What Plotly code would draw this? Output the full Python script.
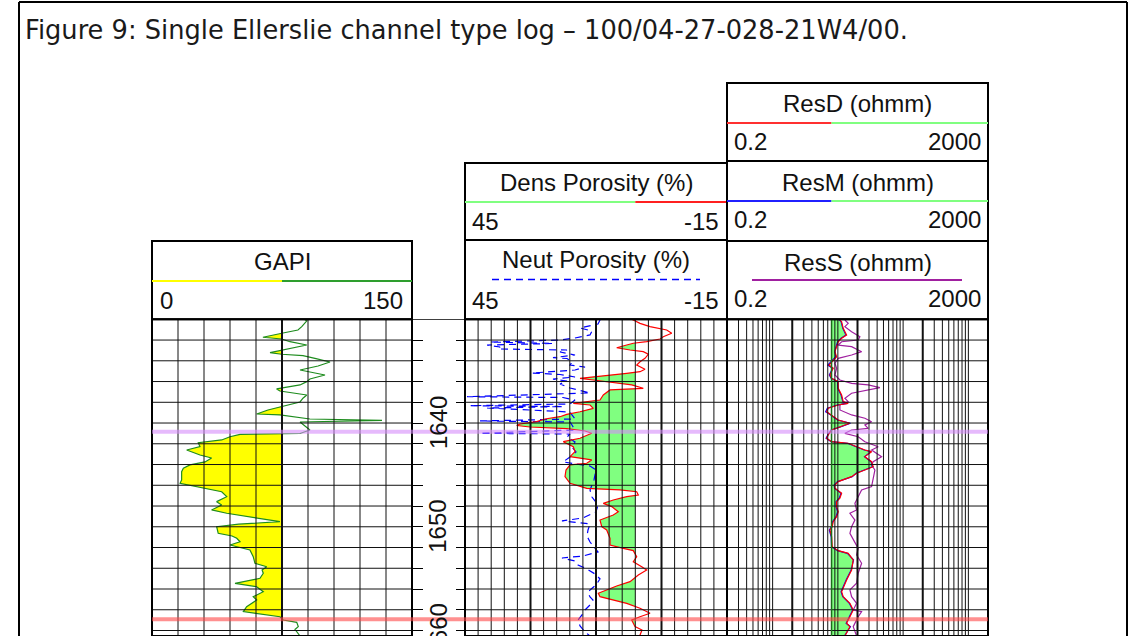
import math
import plotly.graph_objects as go

# ---------------------------------------------------------------- data
title_text = "Figure 9: Single Ellerslie channel type log \u2013 100/04-27-028-21W4/00."

depth_top, depth_bottom = 1630.0, 1660.53
depth_labels = [1640, 1650, 1660]
depth_grid = list(range(1632, 1661, 2))

# gamma ray (API)
gr_depth = [1630.0, 1630.16, 1630.71, 1631.03, 1631.32, 1631.73, 1631.90, 1632.16, 1632.48, 1632.96,
            1633.22, 1633.37, 1633.51, 1633.76, 1634.12, 1634.50, 1634.89, 1635.37, 1635.75, 1636.01,
            1636.33, 1636.71, 1636.91, 1637.30, 1637.61, 1637.97, 1638.42, 1638.74, 1639.13, 1639.22,
            1639.61, 1639.75, 1639.90, 1640.28, 1640.67, 1641.01, 1641.10, 1641.32, 1641.63, 1641.89,
            1642.28, 1642.60, 1643.08, 1643.37, 1643.75, 1644.04, 1644.36, 1644.69, 1645.49, 1645.81,
            1646.29, 1646.62, 1647.10, 1647.58, 1647.90, 1648.38, 1648.70, 1649.18, 1649.51, 1649.75,
            1649.99, 1650.63, 1650.89, 1651.11, 1651.44, 1651.76, 1652.24, 1652.88, 1653.52, 1653.85,
            1654.17, 1654.48, 1654.97, 1655.45, 1655.78, 1656.26, 1656.74, 1657.06, 1657.70, 1658.18,
            1658.41, 1658.67, 1658.99, 1659.21, 1659.63, 1659.90, 1660.53]
gr_api = [88.0, 89.3, 86.4, 84.2, 75.6, 64.0, 74.8, 79.6, 89.3, 75.6,
          68.1, 74.8, 87.1, 94.0, 102.7, 95.8, 85.4, 99.8, 91.1, 89.3,
          85.4, 71.9, 73.8, 89.3, 87.1, 85.4, 73.8, 66.9, 60.4, 73.8,
          91.1, 132.7, 85.4, 88.3, 91.1, 85.4, 50.8, 45.0, 40.2, 26.7,
          27.7, 20.0, 27.7, 34.4, 30.6, 21.9, 18.1, 17.1, 17.1, 16.2,
          29.6, 40.2, 43.1, 37.3, 40.2, 34.4, 43.1, 60.4, 73.8, 50.0,
          37.3, 38.2, 46.2, 48.9, 50.8, 45.0, 56.5, 58.4, 59.4, 66.2,
          63.5, 64.2, 62.3, 47.9, 60.4, 64.2, 58.4, 60.4, 54.6, 52.7,
          62.3, 73.8, 75.7, 83.5, 84.4, 82.5, 85.4]

# density porosity (%)
dphi_depth = [1630.0, 1630.07, 1630.39, 1630.71, 1631.03, 1631.35, 1631.68, 1631.90, 1632.16, 1632.31,
              1632.48, 1632.74, 1632.96, 1633.12, 1633.37, 1633.76, 1634.09, 1634.41, 1634.82, 1635.05,
              1635.21, 1635.30, 1635.53, 1635.69, 1635.85, 1636.01, 1636.17, 1636.33, 1636.65, 1636.81,
              1637.30, 1637.78, 1638.10, 1638.26, 1638.58, 1638.91, 1639.16, 1639.39, 1639.61, 1639.87,
              1640.09, 1640.24, 1640.38, 1640.53, 1640.77, 1640.99, 1641.47, 1641.80, 1642.28, 1642.76,
              1643.24, 1643.56, 1643.88, 1644.04, 1644.53, 1645.17, 1645.81, 1646.29, 1646.45, 1646.62,
              1646.94, 1647.10, 1647.42, 1647.74, 1648.06, 1648.55, 1648.86, 1649.35, 1649.99, 1650.31,
              1651.11, 1651.76, 1652.08, 1652.30, 1652.88, 1653.37, 1653.85, 1654.17, 1654.65, 1655.29,
              1655.71, 1656.41, 1656.74, 1657.38, 1657.86, 1658.34, 1658.67, 1658.99, 1659.63, 1659.95,
              1660.53]
dphi = [7.0, 6.46, 4.92, 2.63, -1.19, -2.34, -0.41, 0.34, 3.39, 6.46,
        7.97, 10.26, 7.21, 4.17, 3.02, 3.78, 4.92, 5.68, 3.78, 4.92,
        7.97, 10.26, 15.62, 18.66, 15.62, 12.55, 9.5, 6.82, 4.17, 11.79,
        13.33, 14.08, 20.2, 16.37, 15.62, 18.66, 21.71, 23.24, 26.68, 28.58,
        32.4, 33.16, 30.11, 21.71, 17.52, 15.98, 18.66, 22.49, 20.2, 19.81,
        20.95, 15.98, 17.13, 20.95, 21.87, 22.1, 20.95, 17.13, 9.5, 5.68,
        5.31, 7.97, 11.04, 13.33, 11.4, 9.89, 11.04, 14.08, 13.69, 12.55,
        11.79, 11.79, 8.75, 6.46, 5.68, 6.46, 4.53, 3.39, 5.31, 7.21,
        10.26, 14.47, 14.08, 7.97, 4.92, 2.63, 4.92, 6.82, 6.07, 4.47,
        5.0]

# neutron porosity (%)
nphi_depth = [1630.07, 1630.45, 1630.84, 1631.13, 1631.51, 1631.80, 1632.00, 1632.19, 1632.33, 1632.48,
              1632.67, 1632.86, 1632.96, 1633.15, 1633.44, 1633.70, 1633.78, 1634.12, 1634.41, 1634.60,
              1634.89, 1635.18, 1635.32, 1635.56, 1635.76, 1635.95, 1636.24, 1636.62, 1637.10, 1637.46,
              1637.54, 1637.78, 1638.16, 1638.33, 1638.41, 1638.55, 1638.65, 1638.94, 1639.22, 1639.61,
              1639.80, 1639.90, 1640.19, 1640.67, 1640.99, 1641.06, 1641.35, 1641.83, 1642.31, 1642.79,
              1643.27, 1643.75, 1644.14, 1644.53, 1645.49, 1646.45, 1647.13, 1647.90, 1648.57, 1649.15,
              1649.44, 1649.73, 1650.31, 1650.89, 1651.47, 1652.04, 1652.43, 1652.82, 1653.01, 1653.30,
              1653.68, 1654.07, 1654.55, 1655.03, 1655.61, 1656.09, 1656.38, 1656.77, 1657.06, 1657.54,
              1658.02, 1658.50, 1658.99, 1659.56, 1660.14, 1660.53]
nphi = [14.08, 14.54, 18.66, 15.92, 16.37, 19.81, 23.24, 39.27, 24.85, 39.96,
        36.98, 37.44, 21.64, 23.24, 19.81, 24.85, 21.64, 20.5, 20.95, 17.52,
        19.81, 29.66, 23.24, 19.81, 24.85, 21.64, 23.24, 20.95, 16.37, 44.54,
        22.56, 19.81, 20.95, 43.85, 22.56, 39.96, 34.69, 20.95, 20.5, 19.81,
        41.56, 20.95, 20.5, 19.81, 41.56, 20.95, 21.64, 19.81, 20.5, 19.58,
        20.95, 22.56, 16.37, 15.0, 15.46, 16.37, 15.92, 14.54, 15.0, 17.98,
        22.79, 16.37, 16.83, 17.06, 16.37, 15.23, 14.54, 17.98, 22.79, 19.81,
        19.12, 17.06, 15.23, 14.08, 15.0, 16.37, 16.83, 16.37, 15.69, 16.37,
        17.52, 18.21, 19.12, 18.66, 17.52, 16.37]

# resistivity (ohmm)
res_depth = [1630.0, 1630.23, 1630.87, 1631.51, 1631.83, 1632.16, 1632.64, 1633.12, 1633.61, 1634.09,
             1634.41, 1634.72, 1635.37, 1635.69, 1636.01, 1636.65, 1637.30, 1637.94, 1638.10, 1638.26,
             1638.58, 1638.91, 1639.22, 1639.71, 1640.02, 1640.35, 1640.67, 1641.15, 1641.47, 1641.80,
             1641.95, 1642.60, 1642.76, 1643.24, 1643.73, 1644.21, 1644.84, 1645.17, 1645.65, 1645.97,
             1646.29, 1646.77, 1647.25, 1647.58, 1648.06, 1648.55, 1649.03, 1649.51, 1649.99, 1650.31,
             1650.96, 1651.92, 1652.30, 1652.56, 1653.20, 1654.17, 1655.13, 1656.26, 1656.74, 1657.38,
             1658.02, 1658.67, 1659.30, 1659.63, 1660.53]
res_deep = [10.5, 11.42, 12.08, 13.62, 11.42, 10.13, 9.57, 9.02, 9.57, 8.03,
            7.30, 8.49, 7.56, 8.03, 10.13, 10.13, 11.42, 12.08, 14.41, 10.13,
            7.12, 6.73, 8.03, 10.13, 15.30, 11.42, 8.03, 7.12, 6.73, 8.03,
            14.41, 25.96, 32.88, 25.96, 32.88, 34.78, 19.38, 16.24, 10.13, 9.02,
            9.02, 11.42, 10.75, 9.57, 9.57, 10.13, 9.57, 8.49, 8.20, 7.56,
            8.03, 8.20, 10.13, 14.41, 17.19, 16.24, 13.62, 11.42, 12.08, 15.30,
            17.19, 15.30, 13.62, 15.30, 12.82]
res_med = [10.3, 11.2, 11.9, 13.3, 11.2, 9.9, 9.4, 9.0, 9.3, 7.8,
           7.0, 8.3, 7.4, 7.9, 9.9, 10.0, 11.2, 11.9, 14.1, 9.8,
           6.9, 6.5, 7.8, 9.9, 15.6, 11.2, 7.9, 7.0, 6.6, 7.9,
           14.0, 25.4, 32.2, 25.6, 32.3, 34.1, 19.0, 16.6, 9.9, 8.8,
           8.9, 11.2, 10.5, 9.4, 9.4, 9.9, 9.4, 8.3, 8.0, 7.4,
           7.9, 8.0, 9.9, 14.0, 17.4, 16.0, 13.4, 11.2, 11.9, 15.0,
           16.9, 15.0, 13.4, 15.6, 12.6]
ress_depth = [1630.07, 1630.39, 1630.71, 1631.20, 1631.68, 1632.00, 1632.16, 1632.48, 1632.64, 1633.12,
              1633.44, 1633.76, 1634.24, 1634.72, 1635.37, 1635.85, 1636.17, 1636.33, 1636.59, 1636.81,
              1637.13, 1637.61, 1637.94, 1638.26, 1638.74, 1639.22, 1639.54, 1639.87, 1640.19, 1640.51,
              1640.67, 1640.99, 1641.32, 1641.80, 1642.28, 1642.60, 1643.24, 1643.73, 1644.04, 1644.53,
              1645.49, 1646.13, 1646.45, 1647.10, 1647.74, 1648.38, 1648.70, 1649.35, 1649.99, 1650.63,
              1651.44, 1652.08, 1652.72, 1653.52, 1654.48, 1655.45, 1656.09, 1656.74, 1657.38, 1658.02,
              1658.18, 1658.67, 1659.63, 1660.53]
res_shallow = [12.82, 14.41, 12.82, 16.24, 21.77, 20.5, 11.42, 10.13, 16.24, 23.11,
               16.24, 10.13, 9.02, 9.57, 9.02, 10.75, 16.24, 29.16, 44.06, 29.16,
               16.24, 12.82, 14.41, 10.75, 10.75, 16.24, 25.96, 32.88, 25.96, 29.16,
               16.24, 12.82, 20.5, 25.96, 41.5, 32.88, 46.8, 34.78, 32.88, 36.94,
               34.78, 32.88, 23.11, 20.5, 18.25, 19.38, 15.30, 18.25, 16.24, 15.30,
               18.25, 20.5, 19.38, 23.11, 20.5, 19.38, 15.30, 16.24, 19.38, 17.19,
               23.11, 20.5, 17.19, 19.38]

# track scales and grid values
gr_range = (0, 150)
gr_minor = [15, 30, 45, 60, 90, 105, 120, 135]
gr_major = [75]
phi_range = (45, -15)
phi_minor = [42, 39, 36, 33, 27, 24, 21, 18, 12, 9, 6, 3, -3, -6, -9, -12]
phi_major = [30, 15, 0]
res_range = (0.2, 2000)
res_minor = [0.3, 0.4, 0.5, 0.6, 0.7, 0.8, 0.9, 1, 3, 4, 5, 6, 7, 8, 9, 10,
             30, 40, 50, 60, 70, 80, 90, 100, 300, 400, 500, 600, 700, 800, 900, 1000]
res_major = [2, 20, 200]

# shading cutoffs
gr_cutoff = 75
phi_cutoff = 6
res_cutoff = 8

# formation tops (depth, colour)
tops = [(1640.83, "rgba(214,140,250,0.6)"), (1658.92, "rgba(255,70,70,0.6)")]

# ---------------------------------------------------------------- layout helpers
W, H = 1131, 636
FONT = "Liberation Sans, Arial, sans-serif"


def px(x):
    return x / W


def py(y):
    return 1 - y / H


GR_X = (152, 412)
PHI_X = (465, 727)
RES_X = (727, 988)
LOG_TOP = 319.3


def scale_x(v, lo, hi, x0, x1, log=False):
    if log:
        return x0 + (math.log10(v) - math.log10(lo)) / (math.log10(hi) - math.log10(lo)) * (x1 - x0)
    return x0 + (v - lo) / (hi - lo) * (x1 - x0)


def cutoff_fill(depth, vals, cut, keep_above):
    ds, vs = [], []
    for i in range(len(depth)):
        if i > 0:
            v0, v1 = vals[i - 1], vals[i]
            if (v0 - cut) * (v1 - cut) < 0:
                t = (cut - v0) / (v1 - v0)
                ds.append(depth[i - 1] + t * (depth[i] - depth[i - 1]))
                vs.append(cut)
        ds.append(depth[i])
        vs.append(vals[i])
    if keep_above:
        vs = [max(v, cut) for v in vs]
    else:
        vs = [min(v, cut) for v in vs]
    return ds, vs


fig = go.Figure()


def add_fill(depth, vals, cut, keep_above, color, xa, ya):
    ds, vs = cutoff_fill(depth, vals, cut, keep_above)
    fig.add_trace(go.Scatter(x=[cut] * len(ds), y=ds, mode="lines", line=dict(width=0),
                             xaxis=xa, yaxis=ya, hoverinfo="skip"))
    fig.add_trace(go.Scatter(x=vs, y=ds, mode="lines", line=dict(width=0), fill="tonextx",
                             fillcolor=color, xaxis=xa, yaxis=ya, hoverinfo="skip"))


# fills
add_fill(gr_depth, gr_api, gr_cutoff, False, "#FFFF00", "x", "y")
add_fill(dphi_depth, dphi, phi_cutoff, True, "#80FF80", "x2", "y2")
add_fill(res_depth, res_med, res_cutoff, True, "#80FF80", "x3", "y3")
add_fill(res_depth, res_deep, res_cutoff, True, "#80FF80", "x3", "y3")

# curves
fig.add_trace(go.Scatter(x=gr_api, y=gr_depth, mode="lines", line=dict(color="#1E8C1E", width=1.2),
                         xaxis="x", yaxis="y", name="GAPI"))
fig.add_trace(go.Scatter(x=nphi, y=nphi_depth, mode="lines",
                         line=dict(color="#0000FF", width=1.2, dash="7px,5px"),
                         xaxis="x2", yaxis="y2", name="Neut Porosity"))
fig.add_trace(go.Scatter(x=dphi, y=dphi_depth, mode="lines", line=dict(color="#FF0000", width=1.2),
                         xaxis="x2", yaxis="y2", name="Dens Porosity"))
fig.add_trace(go.Scatter(x=res_shallow, y=ress_depth, mode="lines", line=dict(color="#A020A0", width=1.2),
                         xaxis="x3", yaxis="y3", name="ResS"))
fig.add_trace(go.Scatter(x=res_med, y=res_depth, mode="lines", line=dict(color="#0000FF", width=1.2),
                         xaxis="x3", yaxis="y3", name="ResM"))
fig.add_trace(go.Scatter(x=res_deep, y=res_depth, mode="lines", line=dict(color="#FF0000", width=1.2),
                         xaxis="x3", yaxis="y3", name="ResD"))

shapes = []
GRID = "#111111"

# grid lines drawn above the fills
for xa, ya, minor, major in (("x", "y", gr_minor, gr_major),
                             ("x2", "y2", phi_minor, phi_major),
                             ("x3", "y3", res_minor, res_major)):
    for v in minor:
        shapes.append(dict(type="line", xref=xa, yref=ya + " domain", x0=v, x1=v, y0=0, y1=1,
                           line=dict(color=GRID, width=1), layer="above"))
    for v in major:
        shapes.append(dict(type="line", xref=xa, yref=ya + " domain", x0=v, x1=v, y0=0, y1=1,
                           line=dict(color=GRID, width=2), layer="above"))
    for d in depth_grid:
        shapes.append(dict(type="line", xref=xa + " domain", yref=ya, x0=0, x1=1, y0=d, y1=d,
                           line=dict(color=GRID, width=1), layer="above"))
    shapes.append(dict(type="rect", xref=xa + " domain", yref=ya + " domain", x0=0, x1=1, y0=0, y1=1,
                       line=dict(color="black", width=2), layer="above"))

# resistivity cutoff line
shapes.append(dict(type="line", xref="x3", yref="y3 domain", x0=res_cutoff, x1=res_cutoff, y0=0, y1=1,
                   line=dict(color="#1A6E1A", width=1.5), layer="above"))

# top line across the depth track
shapes.append(dict(type="line", xref="paper", yref="y", x0=px(GR_X[1]), x1=px(PHI_X[0]),
                   y0=depth_top, y1=depth_top, line=dict(color="black", width=1.5)))

# formation tops
for d, c in tops:
    shapes.append(dict(type="line", xref="paper", yref="y", x0=px(GR_X[0]), x1=px(RES_X[1]),
                       y0=d, y1=d, line=dict(color=c, width=4), layer="above"))


def box(x0, x1, y0, y1):
    shapes.append(dict(type="rect", xref="paper", yref="paper", x0=px(x0), x1=px(x1),
                       y0=py(y1), y1=py(y0), line=dict(color="black", width=2)))


def hseg(x0, x1, y, color, width=2, dash="solid"):
    shapes.append(dict(type="line", xref="paper", yref="paper", x0=px(x0), x1=px(x1),
                       y0=py(y), y1=py(y), line=dict(color=color, width=width, dash=dash)))


annotations = []


def text(x, y, s, size=24, anchor="center", font=FONT, color="#111111", angle=0, yref="paper"):
    annotations.append(dict(x=px(x), y=(py(y) if yref == "paper" else y), xref="paper", yref=yref,
                            text=s, showarrow=False, xanchor=anchor, yanchor="middle",
                            textangle=angle, font=dict(family=font, size=size, color=color)))


# outer page frame
shapes.append(dict(type="line", xref="paper", yref="paper", x0=px(19), x1=px(19), y0=0, y1=py(2),
                   line=dict(color="black", width=2)))
shapes.append(dict(type="line", xref="paper", yref="paper", x0=px(1127), x1=px(1127), y0=0, y1=py(2),
                   line=dict(color="black", width=2)))
hseg(19, 1127, 2, "black", 2)

text(23, 30, title_text, size=25.7, anchor="left", font="DejaVu Sans, sans-serif", color="#1a1a1a")

# GAPI header
box(GR_X[0], GR_X[1], 241, LOG_TOP)
gx = scale_x(gr_cutoff, *gr_range, *GR_X)
text((GR_X[0] + GR_X[1]) / 2, 261, "GAPI")
hseg(GR_X[0], gx, 281, "#FFFF00")
hseg(gx, GR_X[1], 281, "#2E9E2E")
text(GR_X[0] + 6, 300, str(gr_range[0]), anchor="left")
text(GR_X[1] - 7, 300, str(gr_range[1]), anchor="right")

# porosity headers
px_cut = scale_x(phi_cutoff, *phi_range, *PHI_X)
box(PHI_X[0], PHI_X[1], 163, 240)
text((PHI_X[0] + PHI_X[1]) / 2, 182, "Dens Porosity (%)")
hseg(PHI_X[0], px_cut, 202, "#80FF80")
hseg(px_cut, PHI_X[1], 202, "#FF2020")
text(PHI_X[0] + 5, 221, str(phi_range[0]), anchor="left")
text(PHI_X[1] - 6, 221, str(phi_range[1]), anchor="right")
box(PHI_X[0], PHI_X[1], 240, LOG_TOP)
text((PHI_X[0] + PHI_X[1]) / 2, 259, "Neut Porosity (%)")
hseg(492, 700, 279.5, "#0000FF", 1.5, "7px,5px")
text(PHI_X[0] + 5, 300, str(phi_range[0]), anchor="left")
text(PHI_X[1] - 6, 300, str(phi_range[1]), anchor="right")

# resistivity headers
rx_cut = scale_x(res_cutoff, *res_range, *RES_X, log=True)
res_heads = [("ResD (ohmm)", 83, 161, "#FF3030", "#80FF80"),
             ("ResM (ohmm)", 161, 241, "#2020FF", "#80FF80"),
             ("ResS (ohmm)", 241, LOG_TOP, "#A020A0", None)]
for label, y0, y1, c_left, c_right in res_heads:
    box(RES_X[0], RES_X[1], y0, y1)
    text((RES_X[0] + RES_X[1]) / 2, y0 + 21, label)
    if c_right:
        hseg(RES_X[0], rx_cut, y0 + 40, c_left)
        hseg(rx_cut, RES_X[1], y0 + 40, c_right)
    else:
        hseg(752, 962, y0 + 39, c_left)
    text(RES_X[0] + 5, y0 + 58, "0.2", anchor="left")
    text(RES_X[1] - 5, y0 + 58, "2000", anchor="right")

# depth labels
for d in depth_labels:
    text(438, d, str(d), angle=-90, yref="y")

ydom = [0, py(LOG_TOP)]
yrange = [depth_bottom, depth_top]
common_y = dict(range=yrange, domain=ydom, showgrid=False, zeroline=False, showticklabels=False)
common_x = dict(showgrid=False, zeroline=False, showticklabels=False, ticks="")

fig.update_layout(
    width=W, height=H, autosize=False,
    margin=dict(l=0, r=0, t=0, b=0),
    paper_bgcolor="white", plot_bgcolor="white",
    showlegend=False,
    xaxis=dict(domain=[px(GR_X[0]), px(GR_X[1])], range=list(gr_range), anchor="y", **common_x),
    yaxis=dict(anchor="x", side="right", ticks="outside", ticklen=10, tickcolor="black",
               tickwidth=1, tickvals=depth_grid, **common_y),
    xaxis2=dict(domain=[px(PHI_X[0]), px(PHI_X[1])], range=list(phi_range), anchor="y2", **common_x),
    yaxis2=dict(anchor="x2", side="left", ticks="outside", ticklen=8, tickcolor="black",
                tickwidth=1, tickvals=depth_grid, **common_y),
    xaxis3=dict(domain=[px(RES_X[0]), px(RES_X[1])], type="log",
                range=[math.log10(res_range[0]), math.log10(res_range[1])], anchor="y3", **common_x),
    yaxis3=dict(anchor="x3", **common_y),
    shapes=shapes,
    annotations=annotations,
)

fig.write_html("out.html")
